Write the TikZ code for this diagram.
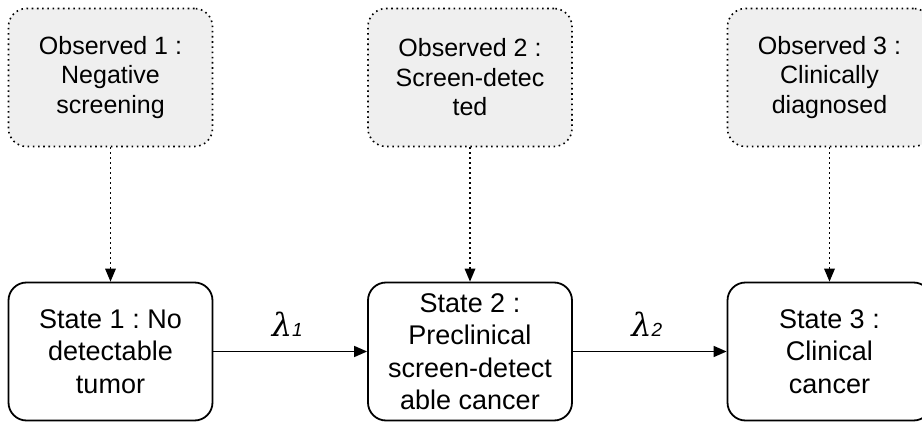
\documentclass[tikz,border=0pt]{standalone}
\usepackage{fontspec}
\setmainfont{Liberation Sans}
\newfontfamily\lamfont{DejaVu Serif}
\usetikzlibrary{arrows.meta}
\definecolor{obsfill}{HTML}{EFEFEF}
\frenchspacing
\tikzset{
  statebox/.style={draw=black, line width=1.8pt, rounded corners=18pt,
    minimum width=204pt, minimum height=138pt, align=center, inner sep=0pt,
    font=\fontsize{27}{32.5}\selectfont},
  obsbox/.style={draw=black, fill=obsfill, line width=1.6pt, rounded corners=18pt,
    dash pattern=on 1.6pt off 3.6pt,
    minimum width=204pt, minimum height=138pt, align=center, inner sep=0pt,
    font=\fontsize{25}{29.5}\selectfont},
  trans/.style={line width=1.6pt, -{Triangle[length=13pt,width=11pt]}},
  obslink/.style={line width=1.5pt, dash pattern=on 1.5pt off 3.5pt,
    -{Triangle[length=13pt,width=11pt,line width=0pt]}},
  ratelabel/.style={anchor=base, inner sep=0pt, yshift=15pt, xshift=-3pt}
}
\newcommand{\rate}[1]{{\lamfont\itshape\fontsize{32}{34}\selectfont λ}{\itshape\fontsize{19}{20}\selectfont #1}}
\begin{document}
\begin{tikzpicture}[x=1pt,y=1pt]
  \useasboundingbox (0,0) rectangle (922,421);

  % hidden states
  \node[statebox] (s1) at (110.5,69.5) {State 1 : No\\detectable\\tumor};
  \node[statebox] (s2) at (470,69.5) {State 2 :\\Preclinical\\screen-detect\\able cancer};
  \node[statebox] (s3) at (829.5,69.5) {State 3 :\\Clinical\\cancer};

  % observations
  \node[obsbox] (o1) at (110.5,343.5) {Observed 1 :\\Negative\\screening};
  \node[obsbox] (o2) at (470,343.5) {Observed 2 :\\Screen-detec\\ted};
  \node[obsbox] (o3) at (829.5,343.5) {Observed 3 :\\Clinically\\diagnosed};

  % emission links
  \draw[obslink] (o1.south) -- (s1.north);
  \draw[obslink] (o2.south) -- (s2.north);
  \draw[obslink] (o3.south) -- (s3.north);

  % transitions
  \draw[trans] (s1.east) -- (s2.west)
    node[midway, ratelabel] (l1) {\rate{1}};
  \draw[trans] (s2.east) -- (s3.west)
    node[midway, ratelabel] (l2) {\rate{2}};
\end{tikzpicture}
\end{document}
